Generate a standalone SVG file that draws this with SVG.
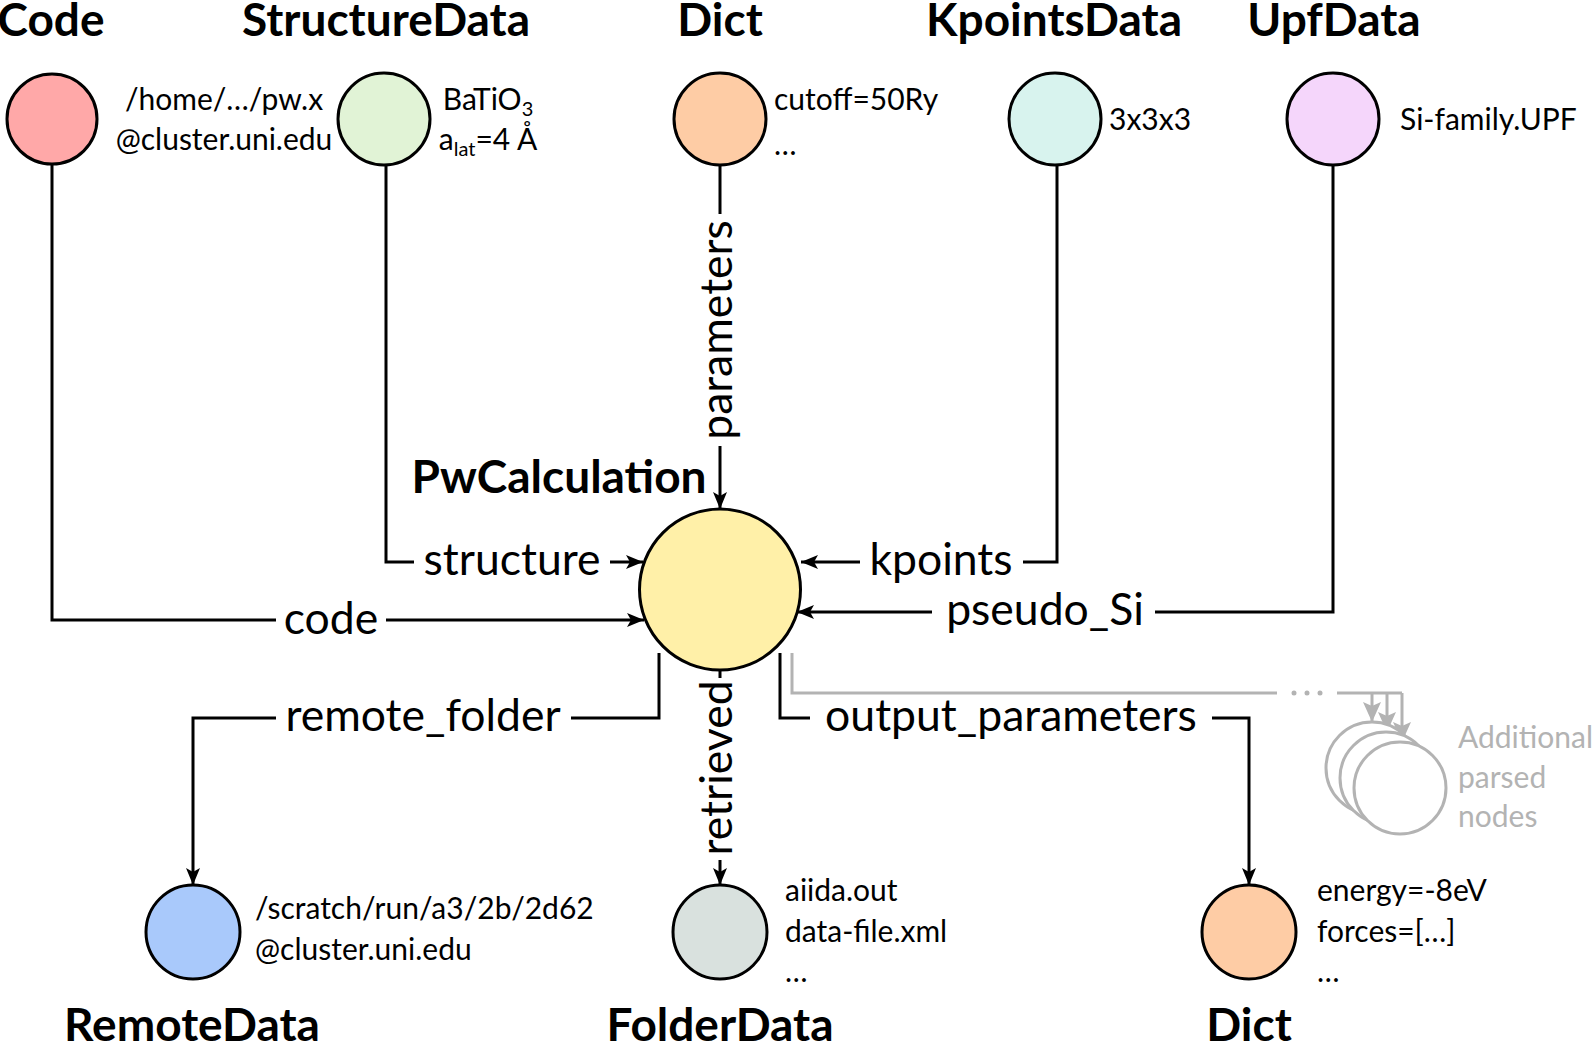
<svg xmlns="http://www.w3.org/2000/svg" width="1593" height="1043" viewBox="0 0 1593 1043">
<style>
.title{font-family:Lato,"Liberation Sans",sans-serif;font-weight:bold;font-size:46px;fill:#000;text-anchor:middle}
.info{font-family:Lato,"Liberation Sans",sans-serif;font-size:30px;fill:#000}
.lbl{font-family:Lato,"Liberation Sans",sans-serif;font-size:44.5px;fill:#000}
.node{stroke:#000;stroke-width:3}
.conn{fill:none;stroke:#000;stroke-width:3}
.gconn{fill:none;stroke:#b3b3b3;stroke-width:3}
.gray{font-family:Lato,"Liberation Sans",sans-serif;font-size:30px;fill:#b3b3b3}
</style>
<defs>
<marker id="ah" markerUnits="userSpaceOnUse" markerWidth="20" markerHeight="14" refX="17" refY="7" orient="auto">
<path d="M0,0 L17,7 L0,14 L4,7 z" fill="#000"/>
</marker>
<marker id="ahg" markerUnits="userSpaceOnUse" markerWidth="22" markerHeight="18" refX="20" refY="9" orient="auto">
<path d="M0,0 L20,9 L0,18 L4,9 z" fill="#b3b3b3"/>
</marker>
</defs>
<rect width="1593" height="1043" fill="#fff"/>

<g id="connectors">
<path class="conn" d="M52,164 V620 H276"/>
<path class="conn" d="M386,620 H644" marker-end="url(#ah)"/>
<path class="conn" d="M386,165 V562 H414"/>
<path class="conn" d="M610,562 H643" marker-end="url(#ah)"/>
<path class="conn" d="M720,165 V214"/>
<path class="conn" d="M720,446 V509" marker-end="url(#ah)"/>
<path class="conn" d="M1057,165 V562 H1023"/>
<path class="conn" d="M860,562 H801" marker-end="url(#ah)"/>
<path class="conn" d="M1333,165 V612 H1155"/>
<path class="conn" d="M932,612 H797" marker-end="url(#ah)"/>
<path class="conn" d="M659,653 V718 H571"/>
<path class="conn" d="M276,718 H193 V885" marker-end="url(#ah)"/>
<path class="conn" d="M720,670 V678"/>
<path class="conn" d="M720,860 V885" marker-end="url(#ah)"/>
<path class="conn" d="M780,653 V718 H810"/>
<path class="conn" d="M1212,718 H1249 V885" marker-end="url(#ah)"/>
<path class="gconn" d="M792,653 V693 H1277"/>
<circle cx="1294" cy="693" r="2.5" fill="#b3b3b3"/>
<circle cx="1307" cy="693" r="2.5" fill="#b3b3b3"/>
<circle cx="1320" cy="693" r="2.5" fill="#b3b3b3"/>
<path class="gconn" d="M1337,693 H1402"/>
<path class="gconn" d="M1372,693 V722" marker-end="url(#ahg)"/>
<path class="gconn" d="M1387,693 V732" marker-end="url(#ahg)"/>
<path class="gconn" d="M1402,693 V742" marker-end="url(#ahg)"/>
<text class="lbl" x="331" y="634" text-anchor="middle">code</text>
<text class="lbl" x="512" y="575" text-anchor="middle" font-size="43">structure</text>
<text class="lbl" transform="translate(720,330) rotate(-90)" x="0" y="12" text-anchor="middle">parameters</text>
<text class="lbl" x="941" y="575" text-anchor="middle">kpoints</text>
<text class="lbl" x="1045" y="625" text-anchor="middle">pseudo_Si</text>
<text class="lbl" x="423" y="731" text-anchor="middle">remote_folder</text>
<text class="lbl" transform="translate(720,768) rotate(-90)" x="0" y="12" text-anchor="middle">retrieved</text>
<text class="lbl" x="1011" y="731" text-anchor="middle">output_parameters</text>
</g>

<g id="code">
<text class="title" x="51" y="36">Code</text>
<circle class="node" cx="52" cy="119" r="45" fill="#ffa8a8"/>
<text class="info" x="224" y="110" text-anchor="middle">/home/…/pw.x</text>
<text class="info" x="224" y="150" text-anchor="middle">@cluster.uni.edu</text>
</g>

<g id="structuredata">
<text class="title" x="386" y="36">StructureData</text>
<circle class="node" cx="384" cy="119" r="46" fill="#e1f3d6"/>
<text class="info" x="488" y="110" text-anchor="middle">BaTiO<tspan font-size="20" dy="6">3</tspan></text>
<text class="info" x="488" y="150" text-anchor="middle">a<tspan font-size="20" dy="6">lat</tspan><tspan dy="-6">=4 Å</tspan></text>
</g>

<g id="dict-in">
<text class="title" x="720" y="36">Dict</text>
<circle class="node" cx="720" cy="119" r="46" fill="#fecca5"/>
<text class="info" x="774" y="110">cutoff=50Ry</text>
<text class="info" x="774" y="155">…</text>
</g>

<g id="kpointsdata">
<text class="title" x="1054" y="36">KpointsData</text>
<circle class="node" cx="1055" cy="119" r="46" fill="#d8f3ee"/>
<text class="info" x="1109" y="130">3x3x3</text>
</g>

<g id="upfdata">
<text class="title" x="1334" y="36">UpfData</text>
<circle class="node" cx="1333" cy="119" r="46" fill="#f5d6fb"/>
<text class="info" x="1400" y="130">Si-family.UPF</text>
</g>

<g id="pwcalculation">
<text class="title" x="559" y="493">PwCalculation</text>
<circle class="node" cx="720" cy="589.5" r="80.5" fill="#fff0a8"/>
</g>

<g id="remotedata">
<circle class="node" cx="193" cy="932" r="47" fill="#a9c9fb"/>
<text class="info" x="255" y="919" font-size="29.5">/scratch/run/a3/2b/2d62</text>
<text class="info" x="255" y="960">@cluster.uni.edu</text>
<text class="title" x="192" y="1041">RemoteData</text>
</g>

<g id="folderdata">
<circle class="node" cx="720" cy="932" r="47" fill="#d9e1de"/>
<text class="info" x="785" y="901">aiida.out</text>
<text class="info" x="785" y="942">data-file.xml</text>
<text class="info" x="785" y="982">…</text>
<text class="title" x="720" y="1041">FolderData</text>
</g>

<g id="dict-out">
<circle class="node" cx="1249" cy="932" r="47" fill="#fecca5"/>
<text class="info" x="1317" y="901">energy=-8eV</text>
<text class="info" x="1317" y="942">forces=[…]</text>
<text class="info" x="1317" y="982">…</text>
<text class="title" x="1249" y="1041">Dict</text>
</g>

<g id="additional-nodes">
<circle cx="1372" cy="768" r="46" fill="#fff" stroke="#b3b3b3" stroke-width="3"/>
<circle cx="1386" cy="778" r="46" fill="#fff" stroke="#b3b3b3" stroke-width="3"/>
<circle cx="1400" cy="788" r="46" fill="#fff" stroke="#b3b3b3" stroke-width="3"/>
<text class="gray" x="1458" y="748">Additional</text>
<text class="gray" x="1458" y="788">parsed</text>
<text class="gray" x="1458" y="827">nodes</text>
</g>
</svg>
